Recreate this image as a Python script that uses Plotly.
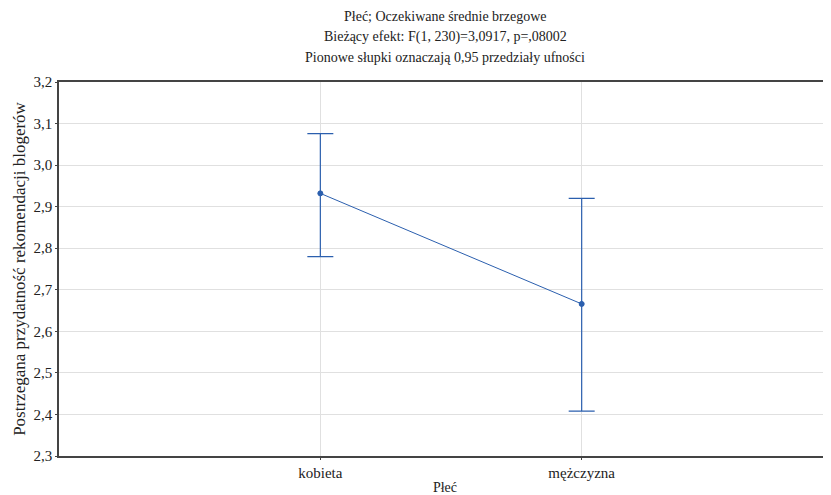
import plotly.graph_objects as go

categories = ["kobieta", "mężczyzna"]
means = [2.932, 2.666]
ci_upper = [3.076, 2.920]
ci_lower = [2.780, 2.408]
y_ticks = [2.3, 2.4, 2.5, 2.6, 2.7, 2.8, 2.9, 3.0, 3.1, 3.2]
title_lines = [
    "Płeć; Oczekiwane średnie brzegowe",
    "Bieżący efekt: F(1, 230)=3,0917, p=,08002",
    "Pionowe słupki oznaczają 0,95 przedziały ufności",
]

xpos = list(range(len(categories)))
color = "#2b5fae"
font = "Liberation Serif, Times New Roman, serif"

fig = go.Figure()
fig.add_trace(go.Scatter(
    x=xpos, y=means, mode="lines+markers",
    line=dict(color=color, width=1),
    marker=dict(color=color, size=5, line=dict(color=color, width=1)),
    error_y=dict(type="data", symmetric=False,
                 array=[u - m for u, m in zip(ci_upper, means)],
                 arrayminus=[m - l for m, l in zip(means, ci_lower)],
                 color=color, thickness=1.2, width=13),
    showlegend=False,
))

for i, t in enumerate(title_lines):
    fig.add_annotation(text=t, xref="paper", yref="paper", x=0.5,
                       y=1, yshift=66 - i * 20.5, showarrow=False,
                       xanchor="center", yanchor="middle",
                       font=dict(family=font, size=14, color="#222"))

fig.update_layout(
    width=823, height=487,
    margin=dict(l=51, r=0, t=74, b=39),
    paper_bgcolor="white", plot_bgcolor="white",
    separators=", ",
    font=dict(family=font, size=15, color="#222"),
    xaxis=dict(range=[-1, 1.954], tickvals=xpos, ticktext=categories,
               showgrid=True, gridcolor="#e0e0e0", gridwidth=1,
               showline=True, linecolor="#444", linewidth=1.5, mirror=True,
               ticks="outside", ticklen=2, tickcolor="#444",
               zeroline=False,
               title=dict(text="Płeć", font=dict(family=font, size=14), standoff=3)),
    yaxis=dict(range=[2.3, 3.2], tickvals=y_ticks, tickformat=".1f",
               showgrid=True, gridcolor="#e0e0e0", gridwidth=1,
               showline=True, linecolor="#444", linewidth=1.5,
               ticks="outside", ticklen=2, tickcolor="#444",
               zeroline=False,
               title=dict(text="Postrzegana przydatność rekomendacji blogerów",
                          font=dict(family=font, size=17), standoff=4)),
)

fig.write_html("out.html")
